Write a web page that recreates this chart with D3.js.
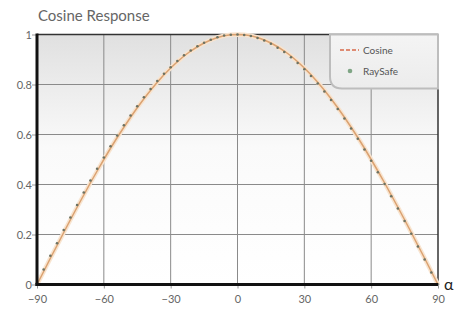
<!DOCTYPE html>
<html><head><meta charset="utf-8">
<script src="https://cdn.jsdelivr.net/npm/d3@7"></script>
<style>body{margin:0;background:#fff}svg{display:block;font-family:Lato,"Open Sans",sans-serif}</style>
</head><body><svg id="c" width="456" height="314"></svg>
<script>
const xTicks = [-90, -60, -30, 0, 30, 60, 90];
const yTicks = [0, 0.2, 0.4, 0.6, 0.8, 1];
const yTickLabels = ["0", "0.2", "0.4", "0.6", "0.8", "1"];
const angles = [-90,-87,-84,-81,-78,-75,-72,-69,-66,-63,-60,-57,-54,-51,-48,-45,-42,-39,-36,-33,-30,-27,-24,-21,-18,-15,-12,-9,-6,-3,0,3,6,9,12,15,18,21,24,27,30,33,36,39,42,45,48,51,54,57,60,63,66,69,72,75,78,81,84,87,90];
const cosine = [0,0.052,0.105,0.156,0.208,0.259,0.309,0.358,0.407,0.454,0.5,0.545,0.588,0.629,0.669,0.707,0.743,0.777,0.809,0.839,0.866,0.891,0.914,0.934,0.951,0.966,0.978,0.988,0.995,0.999,1,0.999,0.995,0.988,0.978,0.966,0.951,0.934,0.914,0.891,0.866,0.839,0.809,0.777,0.743,0.707,0.669,0.629,0.588,0.545,0.5,0.454,0.407,0.358,0.309,0.259,0.208,0.156,0.105,0.052,0];
const raysafe = [0.005,0.06,0.115,0.165,0.218,0.268,0.318,0.368,0.416,0.463,0.508,0.553,0.596,0.637,0.676,0.713,0.749,0.782,0.814,0.843,0.869,0.894,0.917,0.936,0.953,0.967,0.979,0.989,0.996,0.999,1,0.998,0.994,0.986,0.976,0.963,0.947,0.93,0.909,0.886,0.861,0.834,0.804,0.772,0.738,0.702,0.664,0.624,0.583,0.54,0.495,0.449,0.402,0.353,0.304,0.254,0.203,0.152,0.1,0.048,0];
const seriesNames = ["Cosine", "RaySafe"];

const svg = d3.select("#c");
const L = 37, R = 438, T = 34.5, B = 284.5;
const x = d3.scaleLinear().domain([-90, 90]).range([L, R]);
const y = d3.scaleLinear().domain([0, 1]).range([B, T]);

const defs = svg.append("defs");
const g = defs.append("linearGradient").attr("id","bg").attr("x1",0).attr("y1",0).attr("x2",0).attr("y2",1);
g.append("stop").attr("offset","0%").attr("stop-color","#e0e0e0");
g.append("stop").attr("offset","45%").attr("stop-color","#fafafa");
g.append("stop").attr("offset","100%").attr("stop-color","#ffffff");
const lgd = defs.append("linearGradient").attr("id","lbg").attr("x1",0).attr("y1",0).attr("x2",0).attr("y2",1);
lgd.append("stop").attr("offset","0%").attr("stop-color","#f4f4f4");
lgd.append("stop").attr("offset","100%").attr("stop-color","#ececec");
svg.append("rect").attr("x",L).attr("y",T).attr("width",R-L).attr("height",B-T).attr("fill","url(#bg)");

// grid
svg.append("g").selectAll("line").data(xTicks.slice(1,-1)).join("line")
  .attr("x1",d=>x(d)).attr("x2",d=>x(d)).attr("y1",T).attr("y2",B)
  .attr("stroke","#8a8a8a").attr("stroke-width",1);
svg.append("g").selectAll("line").data(yTicks.slice(1,-1)).join("line")
  .attr("x1",L).attr("x2",R).attr("y1",d=>y(d)).attr("y2",d=>y(d))
  .attr("stroke","#8a8a8a").attr("stroke-width",1);
// top & right border
svg.append("line").attr("x1",L).attr("x2",R).attr("y1",T).attr("y2",T).attr("stroke","#333").attr("stroke-width",1.5);
svg.append("line").attr("x1",R).attr("x2",R).attr("y1",T).attr("y2",B).attr("stroke","#333").attr("stroke-width",1.5);

// legend box
const lg = svg.append("g");
const lx = 330, ly = T, lw = R - lx, lh = 54, rr = 12;
lg.append("path").attr("d",`M${lx},${ly} L${lx+lw},${ly} L${lx+lw},${ly+lh} L${lx+rr},${ly+lh} Q${lx},${ly+lh} ${lx},${ly+lh-rr} Z`)
  .attr("fill","url(#lbg)").attr("stroke","#bdbdbd").attr("stroke-width",2);
lg.append("line").attr("x1",lx+10).attr("x2",lx+29).attr("y1",ly+15.5).attr("y2",ly+15.5)
  .attr("stroke","#d86a4a").attr("stroke-width",1.3).attr("stroke-dasharray","4,2");
lg.append("circle").attr("cx",lx+20).attr("cy",ly+36.5).attr("r",2.3).attr("fill","#7fa585");
lg.selectAll("text").data(seriesNames).join("text")
  .attr("x",lx+33).attr("y",(d,i)=>ly+19+i*21).attr("font-size",10).attr("fill","#555").text(d=>d);

// curves
const line = d3.line().x((d,i)=>x(angles[i])).y(d=>y(d));
svg.append("path").datum(cosine).attr("d",line).attr("fill","none").attr("stroke","#f8e4cf").attr("stroke-width",4.5);
svg.append("path").datum(cosine).attr("d",line).attr("fill","none").attr("stroke","#dba271").attr("stroke-width",1.5);
svg.append("g").selectAll("circle").data(raysafe).join("circle")
  .attr("cx",(d,i)=>x(angles[i])).attr("cy",d=>y(d)).attr("r",1.3).attr("fill","#6b7263");

// axes
const xa = svg.append("g").attr("transform",`translate(0,${B})`).call(d3.axisBottom(x).tickValues(xTicks).tickSize(4).tickFormat(d3.format("d")));
xa.select(".domain").remove();
xa.selectAll("line").attr("stroke","#999");
xa.selectAll("text").attr("font-size",11).attr("fill","#666").attr("font-family","Lato,sans-serif").attr("dy","1em");
const ya = svg.append("g").attr("transform",`translate(${L},0)`).call(d3.axisLeft(y).tickValues(yTicks).tickSize(5).tickFormat((d,i)=>yTickLabels[i]));
ya.select(".domain").remove();
ya.selectAll("line").attr("stroke","#999");
ya.selectAll("text").attr("font-size",11).attr("fill","#666").attr("font-family","Lato,sans-serif").attr("x",-5);
svg.append("line").attr("x1",L).attr("x2",L).attr("y1",T-1).attr("y2",B+1.5).attr("stroke","#111").attr("stroke-width",3);
svg.append("line").attr("x1",L-1.5).attr("x2",R).attr("y1",B).attr("y2",B).attr("stroke","#111").attr("stroke-width",3);

svg.append("text").attr("x",444).attr("y",B+5).attr("font-size",16).attr("fill","#222").text("α");
svg.append("text").attr("x",38).attr("y",21).attr("font-size",15).attr("fill","#666").text("Cosine Response");
</script></body></html>
